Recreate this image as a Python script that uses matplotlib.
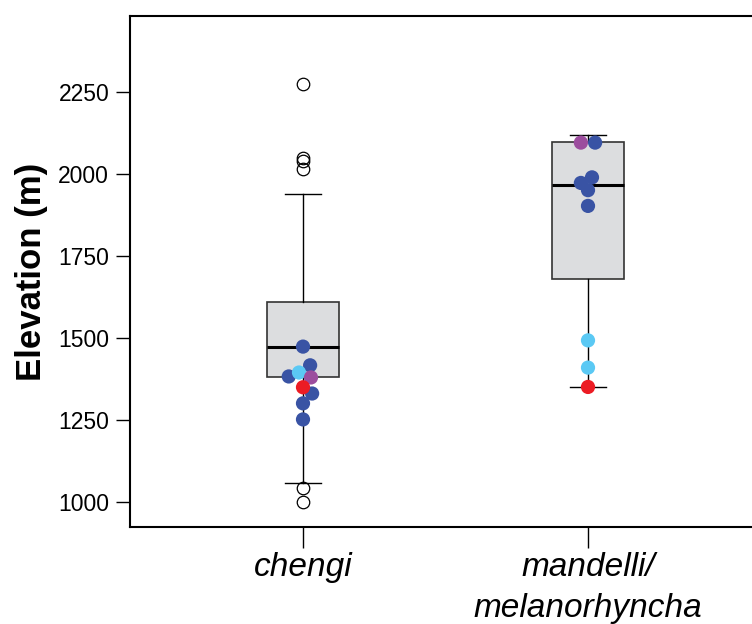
import numpy as np
import matplotlib
matplotlib.use("Agg")
import matplotlib.pyplot as plt

plt.rcParams['font.family'] = ['Liberation Sans', 'DejaVu Sans']

# ---------------------------
# data
# ---------------------------
groups = ['chengi', 'mandelli/\nmelanorhyncha']

# box statistics
box_q1 = [1380, 1680]
box_med = [1472, 1966]
box_q3 = [1611, 2099]
whisk_lo = [1058, 1351]
whisk_hi = [1940, 2119]
outliers = [[2274, 2049, 2040, 2015, 1043, 1000], []]

# individual samples: elevation, colour class, jitter
pt_group = [0, 0, 0, 0, 0, 0, 0, 0, 0,
            1, 1, 1, 1, 1, 1, 1, 1, 1]
pt_elev = [1474, 1417, 1383, 1331, 1301, 1252, 1395, 1380, 1350,
           2096, 2096, 1990, 1973, 1951, 1903, 1493, 1410, 1351]
pt_kind = ['blue', 'blue', 'blue', 'blue', 'blue', 'blue', 'light', 'purple', 'red',
           'purple', 'blue', 'blue', 'blue', 'blue', 'blue', 'light', 'light', 'red']
jitter = [0.0, 0.025, -0.05, 0.032, 0.0, 0.0, -0.014, 0.028, 0.0,
          -0.025, 0.025, 0.014, -0.025, 0.0, 0.0, 0.0, 0.0, 0.0]

colours = {'blue': '#3953A4', 'light': '#5BC9F4', 'purple': '#9C4D9E', 'red': '#EC1C24'}

yticks = [1000, 1250, 1500, 1750, 2000, 2250]

# ---------------------------
# figure
# ---------------------------
fig = plt.figure(figsize=(7.52, 6.24), dpi=100)
ax = fig.add_axes([130 / 752, 97 / 624, 631 / 752, 511 / 624])

stats = []
for i in range(len(groups)):
    stats.append(dict(q1=box_q1[i], med=box_med[i], q3=box_q3[i],
                      whislo=whisk_lo[i], whishi=whisk_hi[i], fliers=outliers[i]))

pos = np.arange(1, len(groups) + 1)
ax.bxp(stats, positions=pos, widths=0.25, capwidths=0.123, patch_artist=True,
       boxprops=dict(facecolor='#DCDDDF', edgecolor='#333333', linewidth=1.2),
       medianprops=dict(color='black', linewidth=2.2),
       whiskerprops=dict(color='black', linewidth=1.0),
       capprops=dict(color='black', linewidth=1.0),
       flierprops=dict(marker='o', markerfacecolor='none', markeredgecolor='black',
                       markersize=9, markeredgewidth=0.9),
       zorder=2)

order = ['blue', 'light', 'purple', 'red']
for kind in order:
    xs = [pos[g] + j for g, j, k in zip(pt_group, jitter, pt_kind) if k == kind]
    ys = [e for e, k in zip(pt_elev, pt_kind) if k == kind]
    ax.scatter(xs, ys, s=105, color=colours[kind], edgecolors='none', zorder=3)

ax.set_xlim(0.393, 2.607)
ax.set_ylim(924, 2482)
ax.set_yticks(yticks)
ax.set_yticklabels([str(t) for t in yticks], fontsize=16.5)
ax.set_xticks(pos)
ax.set_xticklabels(groups, fontsize=24, style='italic', linespacing=1.4)
ax.tick_params(axis='y', length=10, width=1, pad=5)
ax.tick_params(axis='x', length=15, width=1, pad=3)
ax.set_ylabel('Elevation (m)', fontsize=25, fontweight='bold', labelpad=7)

for s in ax.spines.values():
    s.set_linewidth(1.5)

fig.savefig('out.png', dpi=100)
